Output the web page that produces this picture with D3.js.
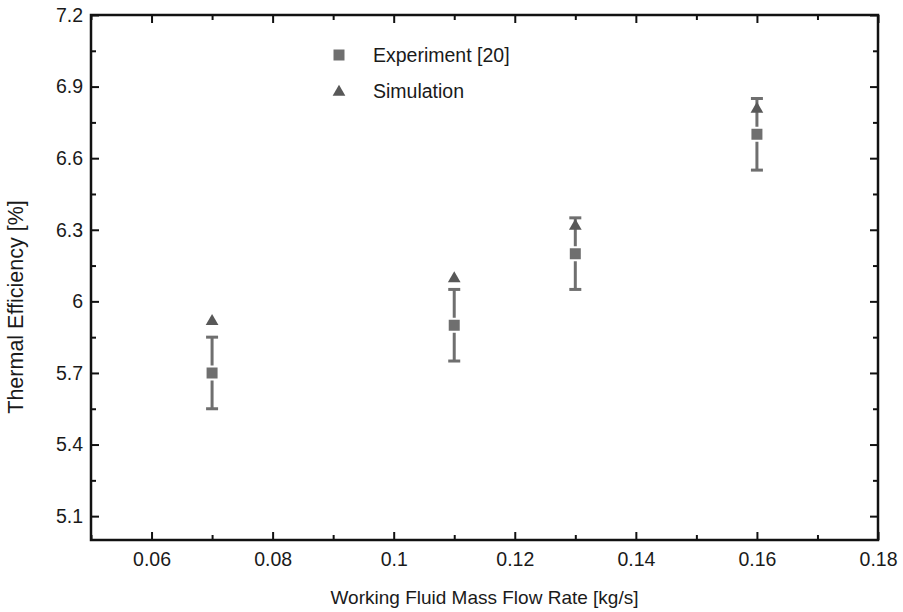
<!DOCTYPE html>
<html><head><meta charset="utf-8">
<script src="https://cdn.jsdelivr.net/npm/d3@7"></script>
<style>body{margin:0;background:#fff}svg{display:block}</style>
</head><body><svg id="c" width="903" height="612"></svg>
<script>
const massFlow = [0.07, 0.11, 0.13, 0.16];
const experiment = [5.70, 5.90, 6.20, 6.70];
const expError = [0.15, 0.15, 0.15, 0.15];
const simulation = [5.92, 6.10, 6.32, 6.81];
const xTicks = [0.06, 0.08, 0.10, 0.12, 0.14, 0.16, 0.18];
const xTickLabels = ["0.06", "0.08", "0.1", "0.12", "0.14", "0.16", "0.18"];
const yTicks = [5.1, 5.4, 5.7, 6.0, 6.3, 6.6, 6.9, 7.2];
const yTickLabels = ["5.1", "5.4", "5.7", "6", "6.3", "6.6", "6.9", "7.2"];
const seriesNames = ["Experiment [20]", "Simulation"];

const svg = d3.select("#c");
const L = 91, R = 878, T = 15, B = 540;
const x = d3.scaleLinear().domain([0.05, 0.18]).range([L, R]);
const y = d3.scaleLinear().domain([5.0, 7.2]).range([B, T]);
const font = "'Liberation Sans', Arial, sans-serif";
const ink = "#111";
const fs = "19.5px";

const xMinor = d3.range(0.05, 0.1801, 0.01).map(v => +v.toFixed(3)).filter(v => !xTicks.some(t => Math.abs(t - v) < 1e-9));
const yMinor = d3.range(5.25, 7.2, 0.3).map(v => +v.toFixed(3));

function ticks(axisGen, vals, size) { return axisGen.tickValues(vals).tickSize(size).tickFormat(""); }

const g = svg.append("g");
g.append("g").attr("transform", `translate(0,${B})`)
  .call(d3.axisBottom(x).tickValues(xTicks).tickSize(-8).tickPadding(12).tickFormat((d, i) => xTickLabels[i]));
g.append("g").attr("transform", `translate(0,${B})`).call(ticks(d3.axisBottom(x), xMinor, -5));
g.append("g").attr("transform", `translate(0,${T})`).call(ticks(d3.axisTop(x), xTicks, -8));
g.append("g").attr("transform", `translate(0,${T})`).call(ticks(d3.axisTop(x), xMinor, -5));
g.append("g").attr("transform", `translate(${L},0)`)
  .call(d3.axisLeft(y).tickValues(yTicks).tickSize(-8).tickPadding(8).tickFormat((d, i) => yTickLabels[i]));
g.append("g").attr("transform", `translate(${L},0)`).call(ticks(d3.axisLeft(y), yMinor, -5));
g.append("g").attr("transform", `translate(${R},0)`).call(ticks(d3.axisRight(y), yTicks, -8));
g.append("g").attr("transform", `translate(${R},0)`).call(ticks(d3.axisRight(y), yMinor, -5));

g.selectAll(".domain").remove();
g.selectAll(".tick line").attr("stroke", ink).attr("stroke-width", 2);
g.selectAll(".tick text").attr("fill", "#1a1a1a").style("font-family", font).style("font-size", fs);

svg.append("rect").attr("x", L).attr("y", T).attr("width", R - L).attr("height", B - T)
  .attr("fill", "none").attr("stroke", ink).attr("stroke-width", 2.5);

const sqCol = "#6f6f6f", triCol = "#585858";
const pts = massFlow.map((m, i) => ({m, e: experiment[i], err: expError[i], s: simulation[i]}));

const eb = svg.append("g").attr("stroke", sqCol).attr("stroke-width", 3);
pts.forEach(p => {
  const cx = x(p.m);
  eb.append("line").attr("x1", cx).attr("x2", cx).attr("y1", y(p.e + p.err)).attr("y2", y(p.e - p.err));
  [p.e + p.err, p.e - p.err].forEach(v => eb.append("line").attr("x1", cx - 6).attr("x2", cx + 6).attr("y1", y(v)).attr("y2", y(v)));
});

const sq = d3.symbol().type(d3.symbolSquare).size(169);
svg.append("g").selectAll("path").data(pts).join("path")
  .attr("d", sq).attr("transform", d => `translate(${x(d.m)},${y(d.e)})`)
  .attr("fill", sqCol).attr("stroke", "#fff").attr("stroke-width", 2);

const tri = d3.symbol().type(d3.symbolTriangle).size(70);
svg.append("g").selectAll("path").data(pts).join("path")
  .attr("d", tri).attr("transform", d => `translate(${x(d.m)},${y(d.s) + 1})`)
  .attr("fill", triCol);

const lg = svg.append("g");
lg.append("path").attr("d", d3.symbol().type(d3.symbolSquare).size(121)).attr("transform", "translate(339,55)").attr("fill", sqCol);
lg.append("path").attr("d", d3.symbol().type(d3.symbolTriangle).size(70)).attr("transform", "translate(339,92)").attr("fill", triCol);
lg.append("text").attr("x", 373).attr("y", 62).text(seriesNames[0]);
lg.append("text").attr("x", 373).attr("y", 98).text(seriesNames[1]);
lg.selectAll("text").attr("fill", "#1a1a1a").style("font-family", font).style("font-size", fs);

svg.append("text").attr("x", (L + R) / 2).attr("y", 604).attr("text-anchor", "middle")
  .attr("fill", "#1a1a1a").style("font-family", font).style("font-size", "19px")
  .text("Working Fluid Mass Flow Rate [kg/s]");
svg.append("text").attr("transform", `translate(23,307) rotate(-90)`).attr("text-anchor", "middle")
  .attr("fill", "#1a1a1a").style("font-family", font).style("font-size", "21.5px")
  .text("Thermal Efficiency [%]");
</script></body></html>
